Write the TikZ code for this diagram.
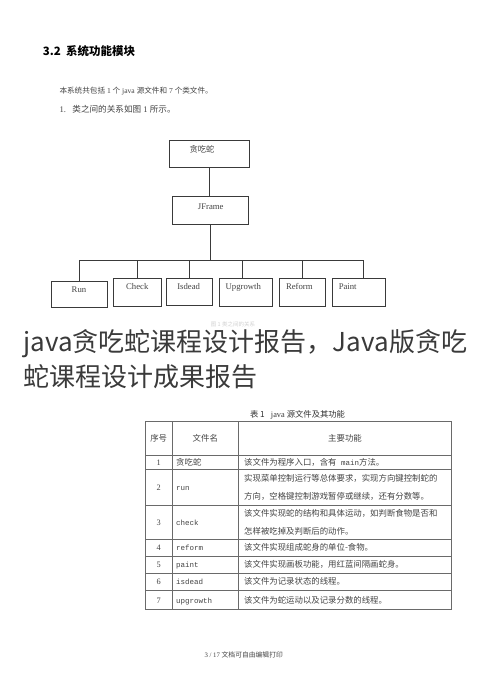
\documentclass[tikz,border=0pt]{standalone}
\usepackage{fontspec}
\setmainfont{Liberation Serif}
\setmonofont{Liberation Mono}
\newfontfamily\cjk{Noto Sans CJK SC}
\definecolor{ln}{HTML}{3A3A3A}
\definecolor{tx}{HTML}{444444}
\definecolor{tl}{HTML}{6A6A6A}
\definecolor{ov}{HTML}{3A3A3A}
\newcommand{\fsz}[1]{\fontsize{#1}{#1}\selectfont}
\begin{document}
\begin{tikzpicture}[x=1pt,y=-1pt,
  box/.style={draw=ln, line width=0.8pt, inner sep=0pt},
  conn/.style={draw=ln, line width=0.8pt},
  lbl/.style={font=\fsz{8.7}, text=tx, inner sep=0pt, anchor=base},
  tline/.style={draw=tl, line width=0.7pt},
  cell/.style={font=\cjk\fsz{8.4}, text=tx, inner sep=0pt, anchor=base},
  cellw/.style={font=\cjk\fontsize{8.4}{18}\selectfont, text=tx, inner sep=0pt, anchor=west, align=left, text width=210pt},
  mono/.style={font=\ttfamily\fsz{7.5}, text=tx, inner sep=0pt, anchor=base west},
  ovl/.style={font=\cjk\fsz{26}, text=ov, inner sep=0pt, anchor=base west}]
\fill[white] (0,0) rectangle (490,698);
\useasboundingbox (0,0) rectangle (490,698);

% heading and intro
\node[font=\cjk\bfseries\fsz{11.5}, text=black, inner sep=0pt, anchor=base west] (head) at (42.7,56) {3.2\ \ 系统功能模块};
\node[font=\fsz{7.6}, text=tx, inner sep=0pt, anchor=base west] (intro) at (59.3,94) {{\cjk 本系统共包括} 1 {\cjk 个} java {\cjk 源文件和} 7 {\cjk 个类文件。}};
\node[font=\fsz{8.6}, text=tx, inner sep=0pt, anchor=base west] (item) at (59.3,112.5) {1.\ \ \ {\cjk 类之间的关系如图} 1 {\cjk 所示。}};

% diagram boxes
\node[box, minimum width=80pt, minimum height=27.3pt] (top) at (209.3,153.7) {};
\node[box, minimum width=76pt, minimum height=27.6pt] (jf) at (210.3,210.5) {};
\node[box, minimum width=56.3pt, minimum height=26pt] (run) at (79.2,294) {};
\node[box, minimum width=47.7pt, minimum height=28pt] (check) at (137.2,292) {};
\node[box, minimum width=46pt, minimum height=27pt] (isdead) at (189.3,291.5) {};
\node[box, minimum width=53pt, minimum height=28pt] (upg) at (245.8,292) {};
\node[box, minimum width=46pt, minimum height=28pt] (reform) at (302.3,292) {};
\node[box, minimum width=53.4pt, minimum height=28pt] (paint) at (359,292) {};

\node[lbl, font=\cjk\fsz{8.3}] (ltop) at (202,152.5) {贪吃蛇};
\node[lbl] (ljf) at (210.7,209) {JFrame};
\node[lbl] (lrun) at (79,292) {Run};
\node[lbl] (lcheck) at (137.3,289.5) {Check};
\node[lbl] (lisdead) at (188.7,289.5) {Isdead};
\node[lbl] (lupg) at (243.3,289.5) {Upgrowth};
\node[lbl] (lreform) at (299.3,289.5) {Reform};
\node[lbl] (lpaint) at (347.7,289.5) {Paint};

% connectors
\coordinate (bL) at (79.3,260);
\coordinate (bR) at (363.3,260);
\coordinate (bUpg) at (242,260);
\draw[conn] (top.south) -- (top.south |- jf.north);
\draw[conn] (jf.south) -- (jf.south |- bL);
\draw[conn] (bL) -- (bR);
\draw[conn] (run.north) -- (run.north |- bL);
\draw[conn] (check.north) -- (check.north |- bL);
\draw[conn] (isdead.north) -- (isdead.north |- bL);
\draw[conn] (bUpg) -- (bUpg |- upg.north);
\draw[conn] (reform.north) -- (reform.north |- bL);
\draw[conn] (bR) -- (bR |- paint.north);

% overlay title
\node[font=\cjk\fsz{5.5}, text=black!18, inner sep=0pt, anchor=base] (ghost) at (233,326) {图 1\ 类之间的关系};
\node[ovl] (ov1) at (23.3,351.5) {java贪吃蛇课程设计报告，Java版贪吃};
\node[ovl] (ov2) at (23.3,386) {蛇课程设计成果报告};

% table caption
\node[font=\fsz{8.3}, text=black!80, inner sep=0pt, anchor=base] (cap) at (297.5,417) {{\cjk 表 1}\ \ \ java {\cjk 源文件及其功能}};

% table grid
\draw[tline] (145,421) rectangle (451.7,609);
\foreach \yy in {455,469,505,539,556,573,590} \draw[tline] (145,\yy) -- (451.7,\yy);
\draw[tline] (172.3,421) -- (172.3,609);
\draw[tline] (238.3,421) -- (238.3,609);

% header
\node[cell] (h1) at (158.7,441) {序号};
\node[cell] (h2) at (205.3,441) {文件名};
\node[cell] (h3) at (345,441) {主要功能};
% column 1
\node[cell, font=\fsz{8.3}] (n1) at (158.7,465) {1};
\node[cell, font=\fsz{8.3}] (n2) at (158.7,490) {2};
\node[cell, font=\fsz{8.3}] (n3) at (158.7,525) {3};
\node[cell, font=\fsz{8.3}] (n4) at (158.7,550.5) {4};
\node[cell, font=\fsz{8.3}] (n5) at (158.7,567.5) {5};
\node[cell, font=\fsz{8.3}] (n6) at (158.7,584.5) {6};
\node[cell, font=\fsz{8.3}] (n7) at (158.7,603) {7};
% column 2
\node[cell, anchor=base west] (f1) at (176,465) {贪吃蛇};
\node[mono] (f2) at (176,490) {run};
\node[mono] (f3) at (176,525) {check};
\node[mono] (f4) at (176,550.5) {reform};
\node[mono] (f5) at (176,567.5) {paint};
\node[mono] (f6) at (176,584.5) {isdead};
\node[mono] (f7) at (176,603) {upgrowth};
% column 3
\node[cell, anchor=base west] (d1) at (244,465) {该文件为程序入口，含有{\ttfamily\fsz{7.5} main}方法。};
\node[cellw] (d2) at (244,487) {实现菜单控制运行等总体要求，实现方向键控制蛇的\\方向，空格键控制游戏暂停或继续，还有分数等。};
\node[cellw] (d3) at (244,522) {该文件实现蛇的结构和具体运动，如判断食物是否和\\怎样被吃掉及判断后的动作。};
\node[cell, anchor=base west] (d4) at (244,550.5) {该文件实现组成蛇身的单位-食物。};
\node[cell, anchor=base west] (d5) at (244,567.5) {该文件实现画板功能，用红蓝间隔画蛇身。};
\node[cell, anchor=base west] (d6) at (244,584.5) {该文件为记录状态的线程。};
\node[cell, anchor=base west] (d7) at (244,603) {该文件为蛇运动以及记录分数的线程。};

% footer
\node[font=\fsz{6.8}, text=tx, inner sep=0pt, anchor=base] (foot) at (243.7,657.5) {3 / 17 {\cjk 文档可自由编辑打印}};
\end{tikzpicture}
\end{document}
